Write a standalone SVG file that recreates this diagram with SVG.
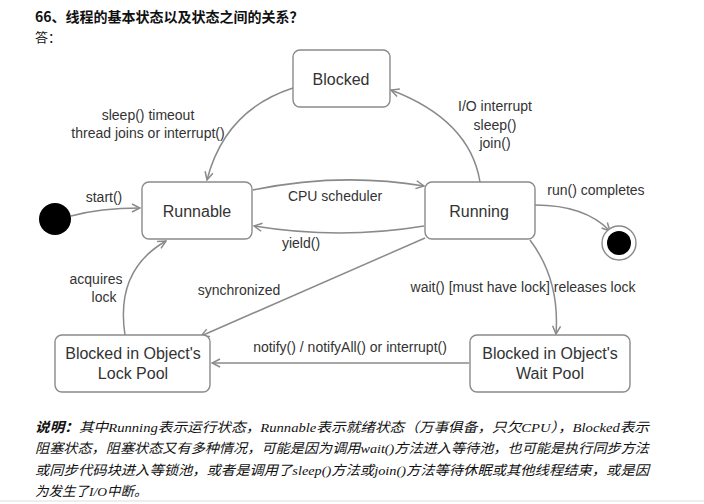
<svg xmlns="http://www.w3.org/2000/svg" width="704" height="504" viewBox="0 0 704 504">
<style>
.box{fill:#fff;stroke:#8a8a8a;stroke-width:1.4}
.lbl{font-family:"Liberation Sans",Arial,sans-serif;font-size:14px;fill:#333;text-anchor:middle}
.st{font-family:"Liberation Sans",Arial,sans-serif;font-size:16px;fill:#333;text-anchor:middle}
.ln{fill:none;stroke:#8a8a8a;stroke-width:1.5;marker-end:url(#ah)}
.cn{font-family:"Liberation Serif","Noto Sans CJK SC",serif;font-size:13.5px;font-style:italic;fill:#111}
</style>
<defs>
<marker id="ah" viewBox="0 0 10 10" refX="9" refY="5" markerWidth="10" markerHeight="10" markerUnits="userSpaceOnUse" orient="auto">
<path d="M1,1 L9,5 L1,9" fill="none" stroke="#8a8a8a" stroke-width="1.5"/>
</marker>
</defs>
<rect width="704" height="504" fill="#fff"/>
<text x="35" y="22" font-family="'Noto Sans CJK SC',sans-serif" font-size="14" font-weight="bold" fill="#111">66、线程的基本状态以及状态之间的关系？</text>
<text x="35" y="42" font-family="'Noto Sans CJK SC',sans-serif" font-size="13" fill="#111">答：</text>

<g id="connectors">
<path class="ln" d="M71,216 Q100,208 140,208"/>
<path class="ln" d="M253,190 Q340,172 424,186"/>
<path class="ln" d="M424,226 Q340,240 254,226"/>
<path class="ln" d="M480,182 Q470,120 391,90"/>
<path class="ln" d="M293,88 Q225,110 207,180"/>
<path class="ln" d="M425,238 L201,336"/>
<path class="ln" d="M125,335 Q115,270 166,241"/>
<path class="ln" d="M530,240 Q560,280 556,334"/>
<path class="ln" d="M469,363 L212,363"/>
<path class="ln" d="M535,205 Q585,205 610,231"/>
</g>
<g id="labels">
<text class="lbl" x="104" y="202">start()</text>
<text class="lbl" x="335" y="201">CPU scheduler</text>
<text class="lbl" x="301" y="248">yield()</text>
<text class="lbl" x="495" y="111">I/O interrupt</text>
<text class="lbl" x="495" y="130">sleep()</text>
<text class="lbl" x="495" y="148">join()</text>
<text class="lbl" x="148" y="120">sleep() timeout</text>
<text class="lbl" x="148" y="138">thread joins or interrupt()</text>
<text class="lbl" x="239" y="295">synchronized</text>
<text class="lbl" x="96" y="284">acquires</text>
<text class="lbl" x="104" y="302">lock</text>
<text class="lbl" x="523" y="292">wait() [must have lock] releases lock</text>
<text class="lbl" x="350" y="352">notify() / notifyAll() or interrupt()</text>
<text class="lbl" x="596" y="195">run() completes</text>
</g>

<g id="start"><circle cx="55" cy="219" r="16" fill="#000"/></g>
<g id="end"><circle cx="619" cy="243" r="17" fill="#fff" stroke="#8a8a8a" stroke-width="1.4"/><circle cx="619" cy="243" r="12" fill="#000"/></g>
<g id="blocked"><rect class="box" x="293" y="50" width="97" height="57" rx="7"/><text class="st" x="341" y="85">Blocked</text></g>
<g id="runnable"><rect class="box" x="142" y="182" width="110" height="57" rx="7"/><text class="st" x="197" y="217">Runnable</text></g>
<g id="running"><rect class="box" x="425" y="182" width="110" height="57" rx="7"/><text class="st" x="479" y="217">Running</text></g>
<g id="lockpool"><rect class="box" x="55" y="335" width="155" height="57" rx="7"/><text class="st" x="133" y="359">Blocked in Object's</text><text class="st" x="133" y="379">Lock Pool</text></g>
<g id="waitpool"><rect class="box" x="470" y="335" width="160" height="57" rx="7"/><text class="st" x="550" y="359">Blocked in Object's</text><text class="st" x="550" y="379">Wait Pool</text></g>

<g id="note">
<text class="cn" x="35" y="432" textLength="614" lengthAdjust="spacingAndGlyphs"><tspan font-weight="bold">说明：</tspan>其中Running表示运行状态，Runnable表示就绪状态（万事俱备，只欠CPU），Blocked表示</text>
<text class="cn" x="35" y="453" textLength="614" lengthAdjust="spacingAndGlyphs">阻塞状态，阻塞状态又有多种情况，可能是因为调用wait()方法进入等待池，也可能是执行同步方法</text>
<text class="cn" x="35" y="475" textLength="614" lengthAdjust="spacingAndGlyphs">或同步代码块进入等锁池，或者是调用了sleep()方法或join()方法等待休眠或其他线程结束，或是因</text>
<text class="cn" x="35" y="496">为发生了I/O中断。</text>
</g>
<line x1="0" y1="501" x2="704" y2="501" stroke="#ddd" stroke-width="1"/>
</svg>
